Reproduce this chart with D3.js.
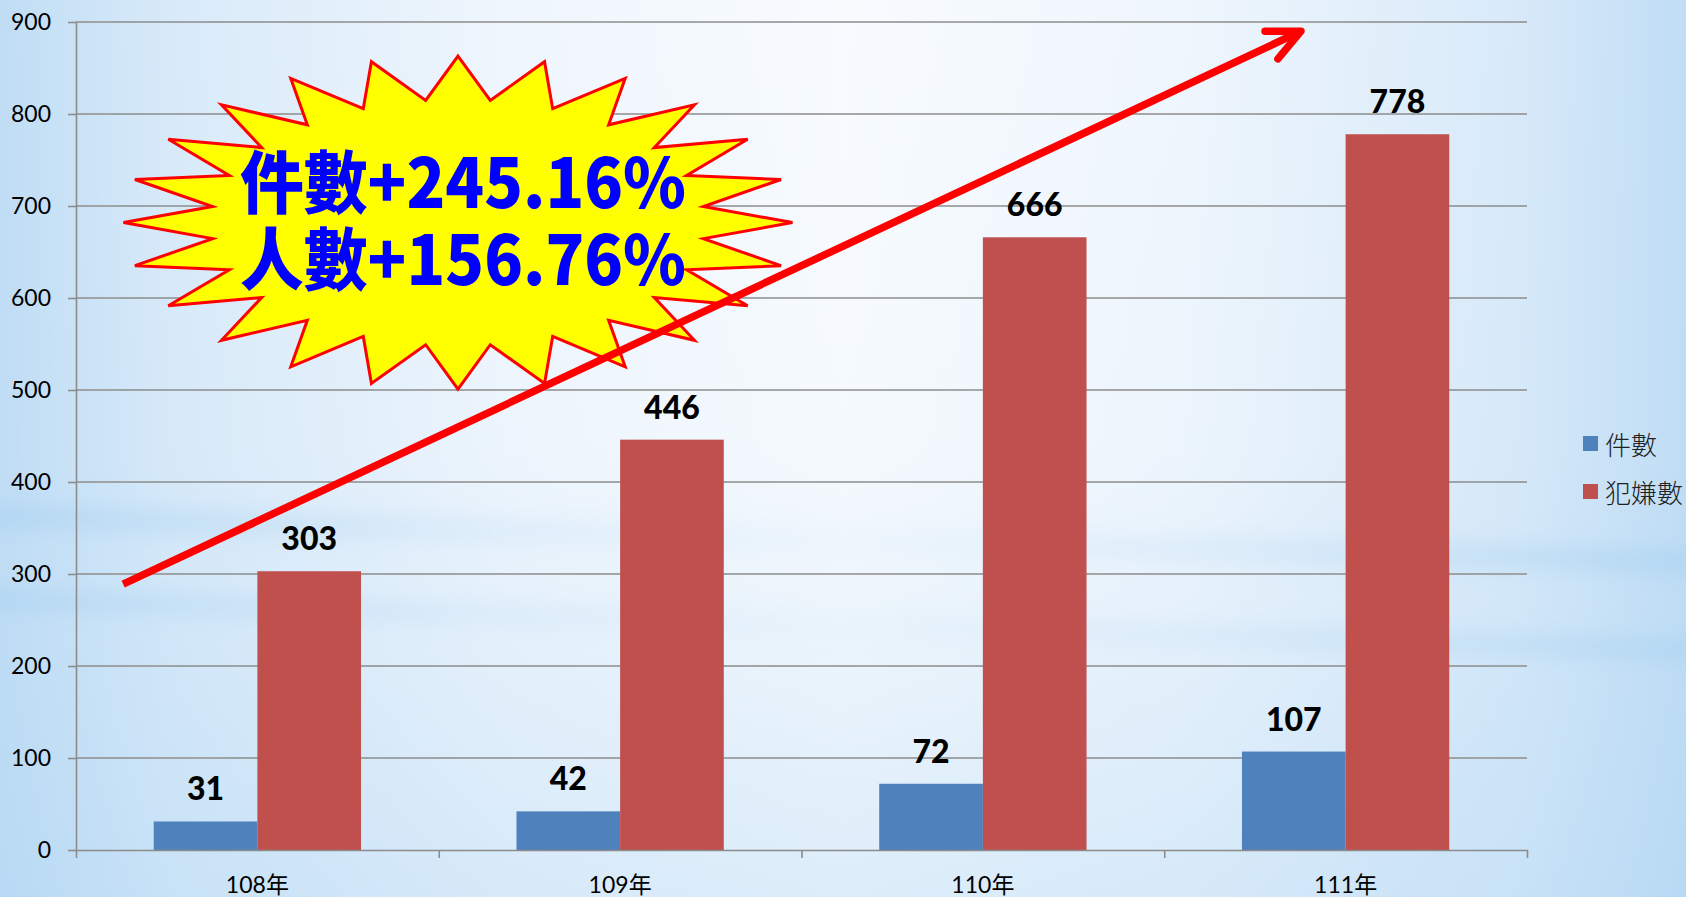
<!DOCTYPE html>
<html><head><meta charset="utf-8">
<script src="https://cdn.jsdelivr.net/npm/d3@7"></script>
<style>html,body{margin:0;padding:0;overflow:hidden;background:#fff}</style>
</head><body><svg id="c" width="1686" height="897"></svg>
<script>
// ---- data ----
const categories = ["108年", "109年", "110年", "111年"];
const seriesNames = ["件數", "犯嫌數"];
const cases = [31, 42, 72, 107];
const suspects = [303, 446, 666, 778];
const yTicks = [0, 100, 200, 300, 400, 500, 600, 700, 800, 900];
const calloutLines = ["件數+245.16%", "人數+156.76%"];
// annotation anchors in data space: [category position (0..4), value]
const arrowStart = [0.13, 289];
const arrowEnd = [3.377, 890];
const burstCenter = [1.053, 682];
const burstRadius = [0.922, 181];
const burstPoints = 24;
const burstInner = 0.74;

const colors = {"件數": "#4f81bd", "犯嫌數": "#c0504d"};

const W = 1686, H = 897;
const plot = {left: 76, right: 1527, top: 22, bottom: 850};
const svg = d3.select("#c");
const defs = svg.append("defs");

// ---- background ----
const gH = defs.append("linearGradient").attr("id", "bgH").attr("x1", 0).attr("x2", 1).attr("y1", 0).attr("y2", 0);
[[0, "#c0ddf5"], [0.1, "#d8eaf9"], [0.3, "#eff6fd"], [0.5, "#f8fbfe"], [0.7, "#eff6fd"], [0.9, "#d8eaf9"], [1, "#c0ddf5"]]
  .forEach(([o, c]) => gH.append("stop").attr("offset", o).attr("stop-color", c));
const gV = defs.append("linearGradient").attr("id", "bgV").attr("x1", 0).attr("x2", 0).attr("y1", 0).attr("y2", 1);
[[0, "#b5d8f3", 0], [0.5, "#b5d8f3", 0.05], [1, "#a9d2f2", 0.35]]
  .forEach(([o, c, op]) => gV.append("stop").attr("offset", o).attr("stop-color", c).attr("stop-opacity", op));
const gBand = defs.append("linearGradient").attr("id", "bgBand").attr("x1", 0).attr("x2", 1).attr("y1", 0).attr("y2", 0);
[[0, 0.5], [0.25, 0.2], [0.5, 0.05], [0.75, 0.2], [1, 0.5]]
  .forEach(([o, op]) => gBand.append("stop").attr("offset", o).attr("stop-color", "#a6d0f0").attr("stop-opacity", op));
defs.append("filter").attr("id", "blur").attr("x", "-10%").attr("y", "-50%").attr("width", "120%").attr("height", "200%")
  .append("feGaussianBlur").attr("stdDeviation", "0 10");

svg.append("rect").attr("width", W).attr("height", H).attr("fill", "url(#bgH)");
svg.append("rect").attr("width", W).attr("height", H).attr("fill", "url(#bgV)");
const bands = [[505, 550, 24], [590, 640, 20]];
bands.forEach(([y0, y1, h]) => {
  svg.append("polygon")
    .attr("points", `0,${y0} ${W},${y1} ${W},${y1 + h} 0,${y0 + h}`)
    .attr("fill", "url(#bgBand)").attr("filter", "url(#blur)");
});

// ---- scales ----
const y = d3.scaleLinear().domain([0, 900]).range([plot.bottom, plot.top]);
const x = d3.scaleBand().domain(categories).range([plot.left, plot.right]).padding(0);
const xpos = d3.scaleLinear().domain([0, categories.length]).range([plot.left, plot.right]);
const xs = d3.scaleBand().domain(seriesNames).range([0, x.bandwidth()]).paddingInner(0).paddingOuter(0.75);

const axisColor = "#8c8c8c";

// gridlines
svg.append("g").selectAll("line").data(yTicks.filter(d => d > 0)).join("line")
  .attr("x1", plot.left).attr("x2", plot.right)
  .attr("y1", d => y(d)).attr("y2", d => y(d))
  .attr("stroke", axisColor).attr("stroke-width", 1.6);

// y axis
const yAxis = svg.append("g").attr("transform", `translate(${plot.left},0)`)
  .call(d3.axisLeft(y).tickValues(yTicks).tickSize(8).tickSizeOuter(0).tickPadding(17));
yAxis.select(".domain").attr("stroke", axisColor).attr("stroke-width", 1.6);
yAxis.selectAll(".tick line").attr("stroke", axisColor).attr("stroke-width", 1.6);
yAxis.selectAll("text").attr("font-family", "Lato, 'Noto Sans CJK TC', sans-serif")
  .attr("font-size", 23).attr("fill", "#000");

// bars
const rows = categories.map((c, i) => ({cat: c, vals: [
  {s: seriesNames[0], v: cases[i]}, {s: seriesNames[1], v: suspects[i]}]}));
const grp = svg.append("g").selectAll("g").data(rows).join("g")
  .attr("transform", d => `translate(${x(d.cat)},0)`);
grp.selectAll("rect").data(d => d.vals).join("rect")
  .attr("x", d => xs(d.s)).attr("width", xs.bandwidth())
  .attr("y", d => y(d.v)).attr("height", d => y(0) - y(d.v))
  .attr("fill", d => colors[d.s]);
grp.selectAll("text").data(d => d.vals).join("text")
  .attr("x", d => xs(d.s) + xs.bandwidth() / 2)
  .attr("y", d => y(d.v) - 21)
  .attr("text-anchor", "middle")
  .attr("font-family", "Lato, sans-serif").attr("font-weight", 900).attr("font-size", 32)
  .attr("fill", "#000").text(d => d.v);

// x axis
const xAxis = svg.append("g").attr("transform", `translate(0,${plot.bottom})`)
  .call(d3.axisBottom(xpos).tickValues(d3.range(categories.length + 1)).tickFormat("").tickSize(8).tickSizeOuter(0));
xAxis.select(".domain").attr("stroke", axisColor).attr("stroke-width", 1.6);
xAxis.selectAll(".tick line").attr("stroke", axisColor).attr("stroke-width", 1.6);
const xLab = svg.append("g").attr("transform", `translate(0,${plot.bottom})`)
  .call(d3.axisBottom(x).tickSize(0).tickPadding(0));
xLab.select(".domain").remove();
xLab.selectAll("text").attr("dy", null).attr("y", 43)
  .attr("font-family", "Lato, 'Noto Sans CJK TC', sans-serif")
  .attr("font-size", 23).attr("fill", "#000");

// legend
const legend = svg.append("g").attr("transform", "translate(1583,436)");
const li = legend.selectAll("g").data(seriesNames).join("g").attr("transform", (d, i) => `translate(0,${i * 48})`);
li.append("rect").attr("width", 15).attr("height", 15).attr("fill", d => colors[d]);
li.append("text").attr("x", 22).attr("y", 7.5).attr("dominant-baseline", "central")
  .attr("font-family", "'Noto Sans CJK TC', sans-serif").attr("font-weight", 300).attr("font-size", 26)
  .attr("fill", "#222").text(d => d);

// starburst
const cx = xpos(burstCenter[0]), cy = y(burstCenter[1]);
const rx = xpos(burstRadius[0]) - xpos(0), ry = y(0) - y(burstRadius[1]);
const pts = d3.range(burstPoints * 2).map(k => {
  const a = k * Math.PI / burstPoints;
  const r = k % 2 === 0 ? 1 : burstInner;
  return [cx + rx * r * Math.sin(a), cy - ry * r * Math.cos(a)];
});
svg.append("polygon").attr("points", pts.map(p => p.join(",")).join(" "))
  .attr("fill", "#ffff00").attr("stroke", "#ff0000").attr("stroke-width", 3).attr("stroke-linejoin", "miter");

// arrow
const ax0 = xpos(arrowStart[0]), ay0 = y(arrowStart[1]);
const ax1 = xpos(arrowEnd[0]), ay1 = y(arrowEnd[1]);
const ang = Math.atan2(ay0 - ay1, ax0 - ax1);
const bl = 36, spread = 25 * Math.PI / 180;
const arrow = svg.append("g").attr("stroke", "#ff0000").attr("stroke-width", 7.5).attr("fill", "none");
arrow.append("line").attr("x1", ax0).attr("y1", ay0).attr("x2", ax1).attr("y2", ay1).attr("stroke-linecap", "butt");
arrow.append("path")
  .attr("d", `M${ax1 + bl * Math.cos(ang + spread)},${ay1 + bl * Math.sin(ang + spread)} L${ax1},${ay1} L${ax1 + bl * Math.cos(ang - spread)},${ay1 + bl * Math.sin(ang - spread)}`)
  .attr("stroke-linecap", "round").attr("stroke-linejoin", "round");

// callout text (one text block, two lines)
const callout = svg.append("text")
  .attr("font-family", "'Noto Sans CJK TC', sans-serif").attr("font-weight", 900).attr("font-size", 68)
  .attr("fill", "#0000ff");
callout.selectAll("tspan").data(calloutLines).join("tspan")
  .attr("x", 240).attr("y", (d, i) => 208 + i * 77)
  .attr("textLength", 446).attr("lengthAdjust", "spacingAndGlyphs")
  .text(d => d);
</script></body></html>
